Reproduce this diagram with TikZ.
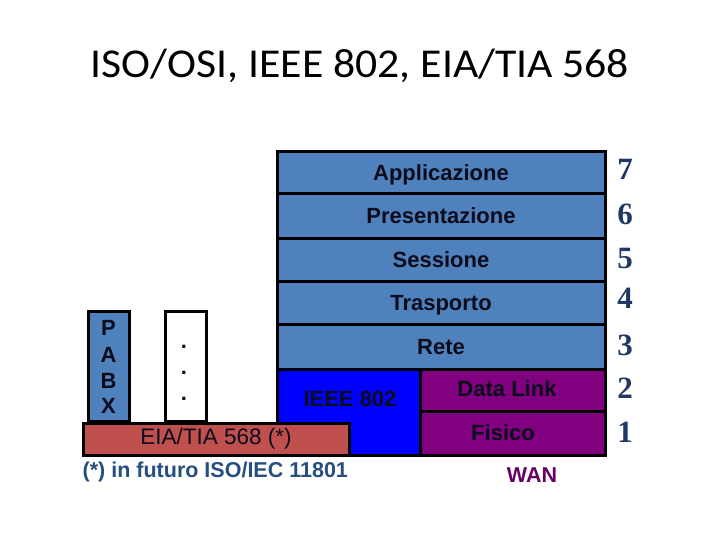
\documentclass[tikz,border=0pt]{standalone}
\usepackage{fontspec}
\setmainfont{Liberation Sans}
\newfontfamily\titlefont{Carlito}
\newfontfamily\numfont{Liberation Serif}
\definecolor{layerblue}{RGB}{79,129,189}
\definecolor{ieeeblue}{RGB}{0,0,255}
\definecolor{wanpurple}{RGB}{128,0,128}
\definecolor{eiared}{RGB}{192,80,77}
\definecolor{boxtext}{RGB}{12,12,28}
\definecolor{footblue}{RGB}{38,78,128}
\definecolor{numblue}{RGB}{31,56,100}
\definecolor{wantext}{RGB}{102,0,102}
\tikzset{
  box/.style={draw=black, line width=3pt, inner sep=0pt, rectangle},
  lbl/.style={font=\fontsize{22}{24}\selectfont\bfseries, text=boxtext, inner sep=0pt, text depth=0pt},
  num/.style={font=\numfont\fontsize{31}{34}\selectfont\bfseries, text=numblue, inner sep=0pt},
  pabx/.style={font=\fontsize{22}{24}\selectfont\bfseries, text=boxtext, inner sep=0pt},
}
\begin{document}
\begin{tikzpicture}[x=1pt,y=1pt]
\useasboundingbox (0,0) rectangle (720,-540);
% title
\node[font=\titlefont\fontsize{41}{46}\selectfont, anchor=base, inner sep=0pt, xscale=1.066] (title) at (360,-78) {ISO/OSI, IEEE 802, EIA/TIA 568};
% OSI layers
\node[box, fill=layerblue, minimum width=328pt, minimum height=42pt] (app) at (441,-173) {};
\node[box, fill=layerblue, minimum width=328pt, minimum height=44pt] (pres) at (441,-216) {};
\node[box, fill=layerblue, minimum width=328pt, minimum height=43pt] (sess) at (441,-259.5) {};
\node[box, fill=layerblue, minimum width=328pt, minimum height=43pt] (tras) at (441,-302.5) {};
\node[box, fill=layerblue, minimum width=328pt, minimum height=45pt] (rete) at (441,-346.5) {};
\node[box, fill=ieeeblue, minimum width=143pt, minimum height=86pt] (ieee) at (348.5,-412) {};
\node[box, fill=wanpurple, minimum width=185pt, minimum height=42pt] (dl) at (512.5,-390) {};
\node[box, fill=wanpurple, minimum width=185pt, minimum height=44pt] (fis) at (512.5,-433) {};
% left boxes
\node[box, fill=layerblue, minimum width=41pt, minimum height=110pt] (pabxbox) at (108.5,-366) {};
\node[box, fill=white, minimum width=41pt, minimum height=110pt] (dotsbox) at (185.5,-366) {};
\node[box, fill=eiared, minimum width=266pt, minimum height=32pt] (eia) at (216,-439) {};
% labels
\node[lbl] (tapp) at (app) {Applicazione};
\node[lbl] (tpres) at (pres) {Presentazione};
\node[lbl] (tsess) at (sess) {Sessione};
\node[lbl] (ttras) at (tras) {Trasporto};
\node[lbl] (trete) at (rete) {Rete};
\node[lbl] (tieee) at (350,-399) {IEEE 802};
\node[lbl] (tdl) at (507,-389) {Data Link};
\node[lbl] (tfis) at (503,-433) {Fisico};
\node[lbl, font=\fontsize{22.5}{24}\selectfont, text depth=] (teia) at (216,-439) {EIA/TIA 568 (*)};
\node[pabx] (p1) at (108.5,-328) {P};
\node[pabx] (p2) at (108.5,-354.5) {A};
\node[pabx] (p3) at (108.5,-381) {B};
\node[pabx] (p4) at (108.5,-406) {X};
\node[pabx] (d1) at (184,-347) {.};
\node[pabx] (d2) at (184,-373) {.};
\node[pabx] (d3) at (184,-399) {.};
% footnote and WAN
\node[font=\fontsize{21.5}{24}\selectfont\bfseries, text=footblue, anchor=west, inner sep=0pt] (foot) at (82.5,-472) {(*) in futuro ISO/IEC 11801};
\node[font=\fontsize{21.5}{24}\selectfont\bfseries, text=wantext, inner sep=0pt] (wan) at (532,-475) {WAN};
% layer numbers
\node[num] (n7) at (625,-169) {7};
\node[num] (n6) at (625,-214) {6};
\node[num] (n5) at (625,-259) {5};
\node[num] (n4) at (625,-298) {4};
\node[num] (n3) at (625,-345) {3};
\node[num] (n2) at (625,-388) {2};
\node[num] (n1) at (625,-432) {1};
\end{tikzpicture}
\end{document}
